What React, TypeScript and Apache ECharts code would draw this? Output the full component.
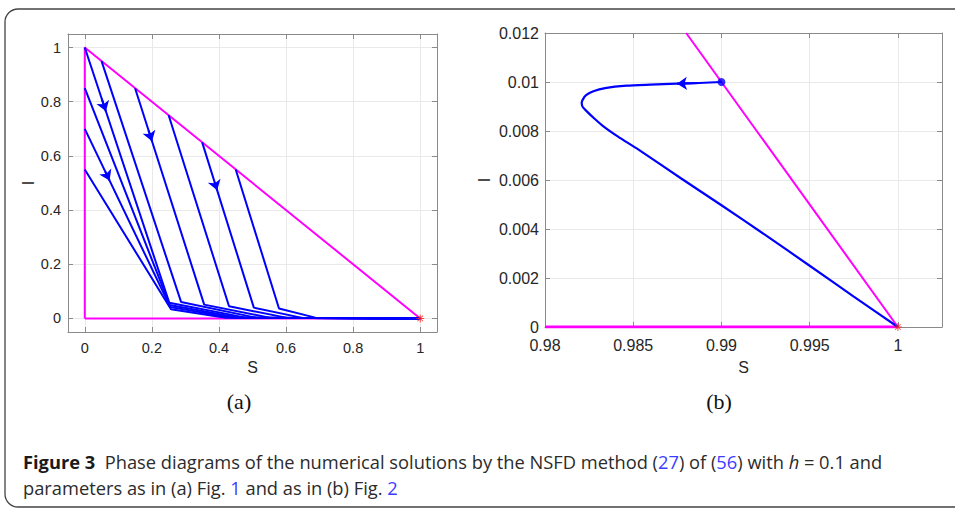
import React, { useEffect, useRef } from "react";
import * as echarts from "echarts";

// ---------- Panel (a) data ----------
const aBoundary: [number, number][] = [
  [0, 0],
  [0, 1],
  [1, 0],
  [0, 0],
];
const aTraj1: [number, number][] = [[0, 1], [0.252, 0.058], [0.48, 0.003], [1, 0]];
const aTraj2: [number, number][] = [[0, 0.85], [0.253, 0.05], [0.46, 0.003], [1, 0]];
const aTraj3: [number, number][] = [[0, 0.7], [0.255, 0.042], [0.44, 0.003], [1, 0]];
const aTraj4: [number, number][] = [[0, 0.55], [0.257, 0.034], [0.42, 0.003], [1, 0]];
const aTraj5: [number, number][] = [[0.05, 0.95], [0.287, 0.061], [0.51, 0.003], [1, 0]];
const aTraj6: [number, number][] = [[0.15, 0.85], [0.356, 0.051], [0.55, 0.003], [1, 0]];
const aTraj7: [number, number][] = [[0.25, 0.75], [0.43, 0.045], [0.6, 0.003], [1, 0]];
const aTraj8: [number, number][] = [[0.35, 0.65], [0.504, 0.04], [0.645, 0.003], [1, 0]];
const aTraj9: [number, number][] = [[0.45, 0.55], [0.579, 0.037], [0.687, 0.003], [1, 0]];
const aTrajectories = [aTraj1, aTraj2, aTraj3, aTraj4, aTraj5, aTraj6, aTraj7, aTraj8, aTraj9];
// arrow positions: trajectory index and fraction along first segment
const aArrowTraj = [0, 5, 2, 7];
const aArrowFrac = [0.25, 0.245, 0.29, 0.29];
const aEquilibrium: [number, number] = [1, 0];

// ---------- Panel (b) data ----------
const bS = [
  0.99, 0.98874, 0.98748, 0.98596, 0.98464, 0.98341, 0.98274, 0.98233, 0.98214, 0.98208, 0.98213,
  0.98237, 0.98278, 0.98331, 0.98414, 0.9853, 0.9877, 0.99, 0.9925, 0.995, 0.9975, 1.0,
];
const bI = [
  0.01, 0.00996, 0.00993, 0.00989, 0.00985, 0.00975, 0.00962, 0.00946, 0.00928, 0.00914, 0.00899,
  0.0088, 0.00852, 0.00819, 0.00777, 0.00724, 0.00607, 0.00497, 0.00375, 0.0025, 0.00124, 0.0,
];
const bBottom: [number, number][] = [
  [0.98, 0],
  [1, 0],
];
const bDiag: [number, number][] = [
  [1, 0],
  [0.988, 0.012],
];
const bStart: [number, number] = [0.99, 0.01];
const bArrowFrom = 1;
const bArrowTo = 2;
const bEquilibrium: [number, number] = [1, 0];

const aTickStep = 0.2;
const bXTickStep = 0.005;

const BLUE = "#0000ff";
const MAGENTA = "#ff00ff";
const AXIS = "#8a8a8a";
const GRIDC = "#e9e9e9";
const LABEL = "#262626";
const STAR =
  "path://M4.4,0H5.6V10H4.4Z M0,4.4H10V5.6H0Z M1.1,1.9L1.9,1.1L8.9,8.1L8.1,8.9Z M8.1,1.1L8.9,1.9L1.9,8.9L1.1,8.1Z";

const CAP_FONT = "Open Sans";
const CAP_SIZE = 18.3;
const CAP_LH = 20;

function fmtMultiple(step: number) {
  return (v: number) => {
    const r = v / step;
    if (Math.abs(r - Math.round(r)) > 1e-6) return "";
    return String(+v.toFixed(4));
  };
}

function mainAxis(extra: any) {
  return {
    type: "value",
    axisLine: { show: true, onZero: false, lineStyle: { color: AXIS, width: 1 } },
    axisTick: { show: true, inside: true, length: 5, lineStyle: { color: AXIS } },
    splitLine: { show: true, lineStyle: { color: GRIDC, width: 1 } },
    axisLabel: { color: LABEL, fontFamily: "Liberation Sans" },
    nameTextStyle: { color: LABEL, fontFamily: "Liberation Sans", fontSize: 16 },
    ...extra,
  };
}
function boxAxis(extra: any) {
  return {
    type: "value",
    axisLine: { show: true, onZero: false, lineStyle: { color: AXIS, width: 1 } },
    axisTick: { show: true, inside: true, length: 5, lineStyle: { color: AXIS } },
    splitLine: { show: false },
    axisLabel: { show: false },
    ...extra,
  };
}

export default function App() {
  const ref = useRef<HTMLDivElement>(null);
  useEffect(() => {
    if (!ref.current) return;
    const chart = echarts.init(ref.current, undefined, { renderer: "svg" });

    const trajSeries = aTrajectories.map((t) => ({
      type: "line",
      xAxisIndex: 0,
      yAxisIndex: 0,
      data: t,
      symbol: "none",
      lineStyle: { color: BLUE, width: 2 },
      z: 3,
      silent: true,
    }));

    const aArrowData = aArrowTraj.map((ti, k) => {
      const tr = aTrajectories[ti];
      const p0 = tr[0];
      const p1 = tr[1];
      const f = aArrowFrac[k];
      const g = f - 0.05;
      return {
        coords: [
          [p0[0] + g * (p1[0] - p0[0]), p0[1] + g * (p1[1] - p0[1])],
          [p0[0] + f * (p1[0] - p0[0]), p0[1] + f * (p1[1] - p0[1])],
        ],
      };
    });

    const bCurve = bS.map((s, i) => [s, bI[i]]);

    chart.setOption({
      animation: false,
      backgroundColor: "#ffffff",
      grid: [
        { left: 68, top: 34, width: 369, height: 298 },
        { left: 545, top: 33, width: 397, height: 294 },
      ],
      xAxis: [
        mainAxis({
          gridIndex: 0,
          position: "bottom",
          min: -0.05,
          max: 1.05,
          splitNumber: 5,
          name: "S",
          nameLocation: "middle",
          nameGap: 27,
          axisLabel: {
            color: LABEL,
            fontFamily: "Liberation Sans",
            fontSize: 14.5,
            margin: 8,
            formatter: fmtMultiple(aTickStep),
          },
        }),
        boxAxis({ gridIndex: 0, position: "top", min: -0.05, max: 1.05, splitNumber: 5 }),
        mainAxis({
          gridIndex: 1,
          position: "bottom",
          min: 0.98,
          max: 1.0025,
          interval: bXTickStep,
          name: "S",
          nameLocation: "middle",
          nameGap: 32,
          axisLabel: {
            color: LABEL,
            fontFamily: "Liberation Sans",
            fontSize: 16,
            margin: 10,
            formatter: fmtMultiple(bXTickStep),
          },
        }),
        boxAxis({ gridIndex: 1, position: "top", min: 0.98, max: 1.0025, interval: bXTickStep }),
      ],
      yAxis: [
        mainAxis({
          gridIndex: 0,
          position: "left",
          min: -0.05,
          max: 1.05,
          splitNumber: 5,
          name: "I",
          nameLocation: "middle",
          nameRotate: 90,
          nameGap: 30,
          axisLabel: {
            color: LABEL,
            fontFamily: "Liberation Sans",
            fontSize: 14.5,
            margin: 7,
            formatter: fmtMultiple(aTickStep),
          },
        }),
        boxAxis({ gridIndex: 0, position: "right", min: -0.05, max: 1.05, splitNumber: 5 }),
        mainAxis({
          gridIndex: 1,
          position: "left",
          min: 0,
          max: 0.012,
          interval: 0.002,
          name: "I",
          nameLocation: "middle",
          nameRotate: 90,
          nameGap: 53,
          axisLabel: {
            color: LABEL,
            fontFamily: "Liberation Sans",
            fontSize: 16,
            margin: 6,
            formatter: (v: number) => String(+v.toFixed(4)),
          },
        }),
        boxAxis({ gridIndex: 1, position: "right", min: 0, max: 0.012, interval: 0.002 }),
      ],
      series: [
        {
          type: "line",
          xAxisIndex: 0,
          yAxisIndex: 0,
          data: aBoundary,
          symbol: "none",
          lineStyle: { color: MAGENTA, width: 2 },
          z: 2,
          silent: true,
        },
        ...trajSeries,
        {
          type: "lines",
          coordinateSystem: "cartesian2d",
          xAxisIndex: 0,
          yAxisIndex: 0,
          data: aArrowData,
          symbol: ["none", "arrow"],
          symbolSize: 10,
          lineStyle: { color: BLUE, width: 2, opacity: 1 },
          z: 4,
          silent: true,
        },
        {
          type: "scatter",
          xAxisIndex: 0,
          yAxisIndex: 0,
          data: [aEquilibrium],
          symbol: STAR,
          symbolSize: 8,
          itemStyle: { color: "#ff2020", opacity: 0.85 },
          z: 5,
          silent: true,
        },
        // panel b
        {
          type: "line",
          xAxisIndex: 2,
          yAxisIndex: 2,
          data: bBottom,
          symbol: "none",
          lineStyle: { color: MAGENTA, width: 3 },
          z: 2,
          silent: true,
        },
        {
          type: "line",
          xAxisIndex: 2,
          yAxisIndex: 2,
          data: bDiag,
          symbol: "none",
          lineStyle: { color: MAGENTA, width: 2 },
          z: 2,
          silent: true,
        },
        {
          type: "line",
          xAxisIndex: 2,
          yAxisIndex: 2,
          data: bCurve,
          symbol: "none",
          smooth: 0.2,
          lineStyle: { color: BLUE, width: 2.2 },
          z: 3,
          silent: true,
        },
        {
          type: "lines",
          coordinateSystem: "cartesian2d",
          xAxisIndex: 2,
          yAxisIndex: 2,
          data: [{ coords: [bCurve[bArrowFrom], bCurve[bArrowTo]] }],
          symbol: ["none", "arrow"],
          symbolSize: 10,
          lineStyle: { color: BLUE, width: 2.2, opacity: 1 },
          z: 4,
          silent: true,
        },
        {
          type: "scatter",
          xAxisIndex: 2,
          yAxisIndex: 2,
          data: [bStart],
          symbol: "circle",
          symbolSize: 8,
          itemStyle: { color: BLUE },
          z: 5,
          silent: true,
        },
        {
          type: "scatter",
          xAxisIndex: 2,
          yAxisIndex: 2,
          data: [bEquilibrium],
          symbol: STAR,
          symbolSize: 8,
          itemStyle: { color: "#ff2020", opacity: 0.85 },
          z: 5,
          silent: true,
        },
      ],
      graphic: [
        {
          type: "rect",
          shape: { x: 5, y: 9, width: 975, height: 498, r: 13 },
          style: { fill: "none", stroke: "#444", lineWidth: 1.3 },
          silent: true,
        },
        {
          type: "text",
          x: 239,
          y: 401,
          style: {
            text: "(a)",
            fontFamily: "Liberation Serif",
            fontSize: 22,
            fill: "#111",
            align: "center",
            verticalAlign: "middle",
          },
        },
        {
          type: "text",
          x: 719,
          y: 401,
          style: {
            text: "(b)",
            fontFamily: "Liberation Serif",
            fontSize: 22,
            fill: "#111",
            align: "center",
            verticalAlign: "middle",
          },
        },
        {
          type: "text",
          x: 23,
          y: 461,
          style: {
            text:
              "{b|Figure 3}  Phase diagrams of the numerical solutions by the NSFD method ({l|27}) of ({l|56}) with {i|h} = 0.1 and",
            fontFamily: CAP_FONT,
            fontSize: CAP_SIZE,
            lineHeight: CAP_LH,
            fill: "#2b2b2b",
            verticalAlign: "middle",
            rich: {
              b: { fontWeight: "bold", fontFamily: CAP_FONT, fontSize: CAP_SIZE, lineHeight: CAP_LH, fill: "#1a1a1a" },
              l: { fontFamily: CAP_FONT, fontSize: CAP_SIZE, lineHeight: CAP_LH, fill: "#3d3dff" },
              i: { fontStyle: "italic", fontFamily: CAP_FONT, fontSize: CAP_SIZE, lineHeight: CAP_LH, fill: "#2b2b2b" },
            },
          },
        },
        {
          type: "text",
          x: 23,
          y: 487,
          style: {
            text: "parameters as in (a) Fig. {l|1} and as in (b) Fig. {l|2}",
            fontFamily: CAP_FONT,
            fontSize: CAP_SIZE,
            lineHeight: CAP_LH,
            fill: "#2b2b2b",
            verticalAlign: "middle",
            rich: {
              l: { fontFamily: CAP_FONT, fontSize: CAP_SIZE, lineHeight: CAP_LH, fill: "#3d3dff" },
            },
          },
        },
      ],
    });

    return () => {
      chart.dispose();
    };
  }, []);

  return (
    <div
      ref={ref}
      style={{ position: "absolute", left: 0, top: 0, width: 955, height: 508, background: "#fff" }}
    />
  );
}
